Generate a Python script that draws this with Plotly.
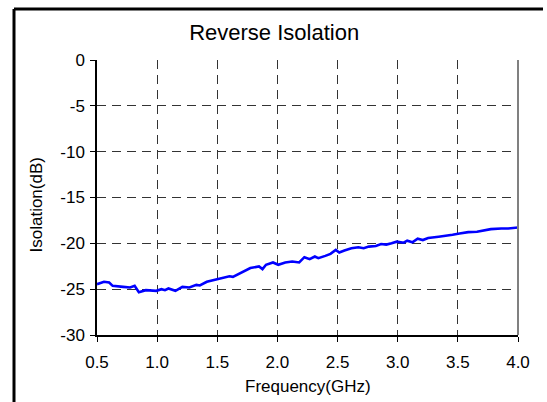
import plotly.graph_objects as go

freq_ghz = [0.5, 0.558, 0.601, 0.63, 0.717, 0.775, 0.813, 0.848, 0.906, 0.993,
            1.036, 1.065, 1.094, 1.152, 1.21, 1.268, 1.326, 1.355, 1.413, 1.485,
            1.543, 1.601, 1.63, 1.688, 1.746, 1.775, 1.847, 1.876, 1.905, 1.963,
            2.007, 2.065, 2.123, 2.181, 2.224, 2.268, 2.311, 2.34, 2.398, 2.441,
            2.485, 2.514, 2.557, 2.615, 2.673, 2.717, 2.76, 2.818, 2.862, 2.905,
            2.949, 2.992, 3.05, 3.079, 3.122, 3.166, 3.209, 3.253, 3.34, 3.398,
            3.456, 3.514, 3.586, 3.659, 3.717, 3.774, 3.861, 3.919, 4.0]
isolation_db = [-24.46, -24.2, -24.28, -24.64, -24.75, -24.82, -24.64, -25.33, -25.11, -25.18,
                -25.0, -25.11, -24.93, -25.18, -24.75, -24.82, -24.53, -24.6, -24.2, -23.95,
                -23.8, -23.59, -23.66, -23.3, -22.88, -22.7, -22.52, -22.81, -22.34, -22.09,
                -22.34, -22.09, -21.98, -22.09, -21.51, -21.73, -21.44, -21.62, -21.37, -21.15,
                -20.72, -21.0, -20.79, -20.54, -20.43, -20.54, -20.36, -20.29, -20.07, -20.14,
                -20.0, -19.82, -19.93, -19.71, -19.89, -19.5, -19.64, -19.42, -19.28, -19.21,
                -19.06, -18.92, -18.78, -18.74, -18.63, -18.45, -18.38, -18.38, -18.27]

x_ticks = [0.5, 1.0, 1.5, 2.0, 2.5, 3.0, 3.5, 4.0]
x_tick_labels = ["0.5", "1.0", "1.5", "2.0", "2.5", "3.0", "3.5", "4.0"]
y_ticks = [0, -5, -10, -15, -20, -25, -30]
y_tick_labels = ["0", "-5", "-10", "-15", "-20", "-25", "-30"]

FONT = "Liberation Sans, Arial, sans-serif"

fig = go.Figure()
fig.add_trace(go.Scatter(x=freq_ghz, y=isolation_db, mode="lines",
                         line=dict(color="#0000FF", width=2.6), showlegend=False))

L, R, T, B = 97, 29, 60, 67
W, H = 547, 402
pw, ph = W - L - R, H - T - B

def px(x):
    return (x - L) / pw

def py(y):
    return (H - B - y) / ph

fig.update_layout(
    width=W, height=H,
    margin=dict(l=L, r=R, t=T, b=B, autoexpand=False),
    paper_bgcolor="white", plot_bgcolor="white",
    font=dict(family=FONT, color="black", size=17),
    title=dict(text="Reverse Isolation", x=px(308), xanchor="center",
               y=1 - 32 / H, yanchor="middle", yref="container",
               font=dict(size=22, family=FONT, color="black")),
    xaxis=dict(range=[0.5, 4.0], tickvals=x_ticks, ticktext=x_tick_labels,
               showline=True, linecolor="black", linewidth=1.5,
               ticks="outside", ticklen=5, tickcolor="black", tickwidth=1,
               showgrid=True, gridcolor="#333333", gridwidth=1, griddash="9px,6px",
               zeroline=False, ticklabelstandoff=6, automargin=False,
               tickfont=dict(size=17)),
    yaxis=dict(range=[-30, 0], tickvals=y_ticks, ticktext=y_tick_labels,
               showline=True, linecolor="black", linewidth=1.5,
               ticks="outside", ticklen=5, tickcolor="black", tickwidth=1,
               showgrid=True, gridcolor="#333333", gridwidth=1, griddash="9px,6px",
               zeroline=False, ticklabelstandoff=2, automargin=False,
               tickfont=dict(size=17)),
    annotations=[
        dict(text="Frequency(GHz)", xref="paper", yref="paper", x=px(307.5), y=py(386),
             xanchor="center", yanchor="middle", showarrow=False, font=dict(size=17)),
        dict(text="Isolation(dB)", xref="paper", yref="paper", x=px(35.5), y=py(205),
             xanchor="center", yanchor="middle", textangle=-90, showarrow=False,
             font=dict(size=17)),
    ],
    shapes=[
        dict(type="line", xref="paper", yref="paper", x0=1, x1=1, y0=0, y1=1,
             line=dict(color="#808080", width=2)),
        dict(type="line", xref="paper", yref="paper", x0=px(14), x1=px(543),
             y0=py(9), y1=py(9), line=dict(color="black", width=3)),
        dict(type="line", xref="paper", yref="paper", x0=px(14), x1=px(14),
             y0=py(9), y1=py(410), line=dict(color="black", width=3)),
    ],
)

fig.write_html("out.html", config={"displayModeBar": False},
               post_script="document.body.style.margin='0px';document.body.style.padding='0px';")
